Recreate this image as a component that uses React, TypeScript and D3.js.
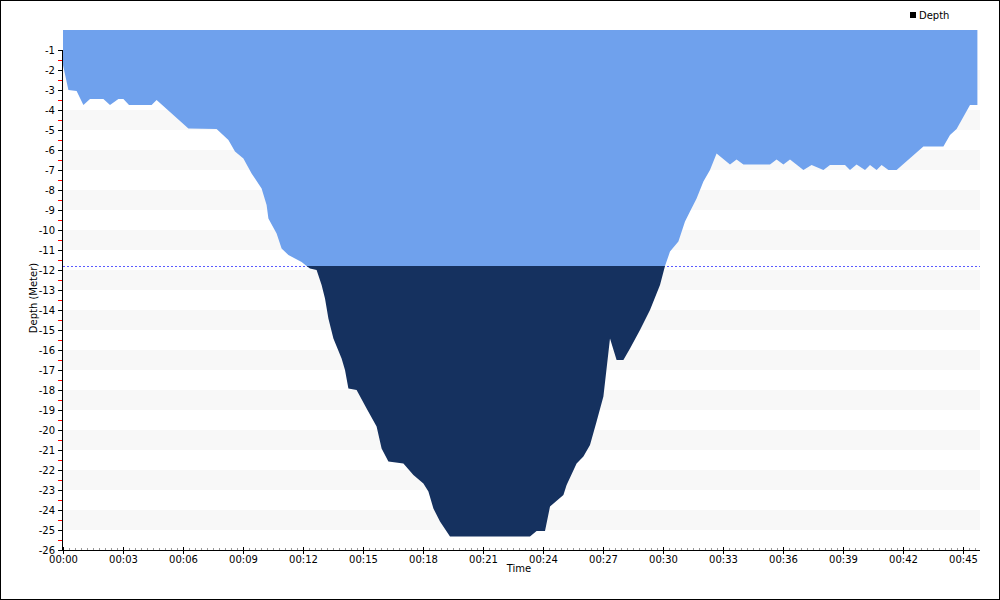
import React, { useRef, useEffect } from "react";
import * as d3 from "d3";

// dive profile: minutes since start, depth in meters (negative = below surface)
const timeMin = [
  0, 0.27, 0.68, 1.02, 1.35, 2.02, 2.35, 2.77, 3.02, 3.3, 4.43, 4.68, 5.35, 6.27, 7.68,
  8.27, 8.6, 9.02, 9.43, 9.93, 10.18, 10.27, 10.68, 10.93, 11.27, 11.6, 11.93, 12.18,
  12.35, 12.68, 12.93, 13.1, 13.27, 13.52, 13.93, 14.1, 14.27, 14.68, 15.18, 15.68,
  15.93, 16.27, 17.02, 17.52, 18.02, 18.27, 18.52, 18.85, 19.35, 23.35, 23.68, 24.1,
  24.35, 25.02, 25.18, 25.68, 26.02, 26.35, 26.68, 27.02, 27.35, 27.68, 28.02, 28.35,
  28.85, 29.35, 29.85, 30.1, 30.35, 30.77, 31.1, 31.35, 31.68, 32.02, 32.35, 32.68,
  33.35, 33.68, 34.02, 35.35, 35.68, 36.02, 36.35, 37.02, 37.43, 38.02, 38.35, 39.1,
  39.35, 39.68, 40.1, 40.35, 40.68, 40.93, 41.27, 41.68, 43.02, 44.02, 44.35, 44.68,
  45.35, 45.72,
];
const depthM = [
  -1.75, -3.0, -3.05, -3.75, -3.45, -3.45, -3.75, -3.45, -3.45, -3.75, -3.75, -3.5, -4.1,
  -4.92, -4.95, -5.5, -6.08, -6.42, -7.17, -7.92, -8.75, -9.42, -10.17, -10.92, -11.25,
  -11.42, -11.6, -11.8, -11.92, -12.0, -12.75, -13.42, -14.42, -15.42, -16.42, -17.0,
  -17.92, -18.0, -18.92, -19.83, -20.92, -21.58, -21.67, -22.25, -22.67, -23.08, -23.92,
  -24.58, -25.33, -25.33, -25.05, -25.05, -23.83, -23.25, -22.75, -21.67, -21.33, -20.75,
  -19.58, -18.33, -15.42, -16.5, -16.5, -15.92, -15.0, -14.0, -12.75, -11.8, -11.08,
  -10.58, -9.58, -9.08, -8.42, -7.58, -7.0, -6.17, -6.72, -6.47, -6.72, -6.72, -6.47,
  -6.72, -6.47, -7.0, -6.75, -7.0, -6.75, -6.75, -7.0, -6.72, -7.0, -6.75, -7.0, -6.75,
  -7.0, -7.0, -5.83, -5.83, -5.25, -4.95, -3.75, -3.75,
];
const thresholdDepth = -11.8;
const yTicks = d3.range(-1, -27, -1);
const xTicks = d3.range(0, 46, 3);
const seriesName = "Depth";

const W = 1000;
const H = 600;
const FONT = "'DejaVu Sans', Tahoma, sans-serif";

const App: React.FC = () => {
  const svgRef = useRef<SVGSVGElement>(null);

  useEffect(() => {
    if (!svgRef.current) return;
    const svg = d3.select(svgRef.current);
    svg.selectAll("*").remove();

    const x = d3.scaleLinear().domain([0, 45.85]).range([63, 980]);
    const y = d3.scaleLinear().domain([0, -26]).range([30, 550]);
    const data = timeMin.map((t, i) => ({ t, d: depthM[i] }));

    // frame
    svg.append("rect")
      .attr("x", 0.5).attr("y", 0.5)
      .attr("width", W - 1).attr("height", H - 1)
      .attr("fill", "white").attr("stroke", "black");

    // alternating bands
    for (let k = 1; k <= 12; k++) {
      svg.append("rect")
        .attr("x", 63).attr("y", y(-2 * k))
        .attr("width", 980 - 63).attr("height", y(-2 * k - 1) - y(-2 * k))
        .attr("fill", "#f8f8f8");
    }

    // threshold line
    svg.append("line")
      .attr("x1", 63).attr("x2", 980)
      .attr("y1", y(thresholdDepth) + 0.5).attr("y2", y(thresholdDepth) + 0.5)
      .attr("stroke", "#5b5bff").attr("stroke-dasharray", "2,2");

    const area = d3.area<{ t: number; d: number }>()
      .x((p) => x(p.t))
      .y0(y(0))
      .y1((p) => y(p.d));

    const defs = svg.append("defs");
    defs.append("clipPath").attr("id", "above")
      .append("rect").attr("x", 0).attr("y", 0)
      .attr("width", W).attr("height", y(thresholdDepth));
    defs.append("clipPath").attr("id", "below")
      .append("rect").attr("x", 0).attr("y", y(thresholdDepth))
      .attr("width", W).attr("height", H);

    svg.append("path").datum(data)
      .attr("d", area).attr("fill", "#6fa1ed")
      .attr("clip-path", "url(#above)");
    svg.append("path").datum(data)
      .attr("d", area).attr("fill", "#15315f")
      .attr("clip-path", "url(#below)");

    // y axis
    const yAxis = svg.append("g").attr("transform", "translate(62,0)");
    yAxis.append("line")
      .attr("x1", 0.5).attr("x2", 0.5)
      .attr("y1", y(-1)).attr("y2", y(-26))
      .attr("stroke", "black");
    d3.range(-1.5, -26, -1).forEach((v) => {
      yAxis.append("line")
        .attr("x1", -4).attr("x2", 0)
        .attr("y1", Math.round(y(v)) + 0.5).attr("y2", Math.round(y(v)) + 0.5)
        .attr("stroke", "red");
    });
    yTicks.forEach((v) => {
      yAxis.append("line")
        .attr("x1", -4).attr("x2", 0)
        .attr("y1", y(v) + 0.5).attr("y2", y(v) + 0.5)
        .attr("stroke", "black");
      yAxis.append("text")
        .attr("x", -7).attr("y", y(v)).attr("dy", "0.35em")
        .attr("text-anchor", "end")
        .attr("font-family", FONT).attr("font-size", 10)
        .text(String(v));
    });

    // x axis
    const xAxis = svg.append("g");
    d3.range(0, 45.9, 0.3).forEach((v) => {
      xAxis.append("line")
        .attr("x1", Math.round(x(v)) + 0.5).attr("x2", Math.round(x(v)) + 0.5)
        .attr("y1", 548).attr("y2", 550)
        .attr("stroke", "#999");
    });
    xAxis.append("line")
      .attr("x1", 62).attr("x2", 980)
      .attr("y1", 550.5).attr("y2", 550.5)
      .attr("stroke", "black");
    xTicks.forEach((v) => {
      xAxis.append("line")
        .attr("x1", x(v) + 0.5).attr("x2", x(v) + 0.5)
        .attr("y1", 547).attr("y2", 554)
        .attr("stroke", "black");
      xAxis.append("text")
        .attr("x", x(v) + 0.5).attr("y", 563)
        .attr("text-anchor", "middle")
        .attr("font-family", FONT).attr("font-size", 10)
        .text(`00:${String(v).padStart(2, "0")}`);
    });

    // axis titles
    svg.append("text")
      .attr("x", 519).attr("y", 572)
      .attr("text-anchor", "middle")
      .attr("font-family", FONT).attr("font-size", 10)
      .text("Time");
    svg.append("text")
      .attr("transform", "translate(37,298) rotate(-90)")
      .attr("text-anchor", "middle")
      .attr("font-family", FONT).attr("font-size", 10)
      .text("Depth (Meter)");

    // legend
    svg.append("rect")
      .attr("x", 910).attr("y", 12).attr("width", 6).attr("height", 6)
      .attr("fill", "black");
    svg.append("text")
      .attr("x", 919).attr("y", 19)
      .attr("font-family", FONT).attr("font-size", 10)
      .text(seriesName);
  }, []);

  return (
    <>
      <style>{"body{margin:0}"}</style>
      <svg ref={svgRef} width={W} height={H} style={{ display: "block" }} />
    </>
  );
};

export default App;
